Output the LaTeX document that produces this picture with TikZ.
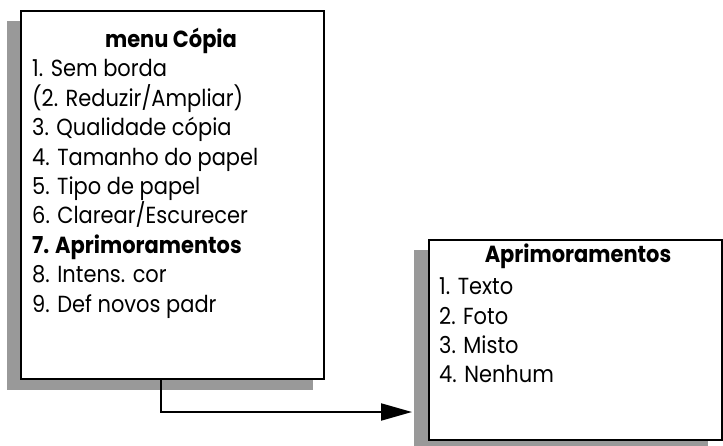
\documentclass[tikz,border=0pt]{standalone}
\usepackage{fontspec}
\setmainfont[FakeStretch=0.9]{Poppins}
\usetikzlibrary{arrows.meta}
\definecolor{shadowgray}{HTML}{999999}
\tikzset{
  menubox/.style={draw=black, line width=2.2pt, fill=white, inner sep=0pt, anchor=north west},
  shade/.style={fill=shadowgray, draw=none},
  itemtext/.style={anchor=base west, inner sep=0pt, font=\fontsize{23.3}{28}\selectfont},
  titletext/.style={anchor=base, inner sep=0pt, font=\bfseries\fontsize{23.3}{28}\selectfont},
  link/.style={line width=2pt, -{Triangle[length=31pt,width=17pt]}}
}
\begin{document}
\begin{tikzpicture}[x=1pt,y=-1pt]
\useasboundingbox (0,0) rectangle (723,446);
% shadows
\fill[shade] (7,21) rectangle (313,390);
\fill[shade] (414,250) rectangle (708,450);
% boxes
\node[menubox, minimum width=303pt, minimum height=368pt] (menu) at (20,10) {};
\node[menubox, minimum width=293pt, minimum height=200pt] (sub) at (428,239) {};
% left box text
\node[titletext] (mt) at (171,48) {menu Cópia};
\foreach \t [count=\i] in {1. Sem borda,(2. Reduzir/Ampliar),3. Qualidade cópia,4. Tamanho do papel,5. Tipo de papel,6. Clarear/Escurecer,{\bfseries 7. Aprimoramentos},8. Intens. cor,9. Def novos padr}
  \node[itemtext] (m\i) at (32,{77+29.4*(\i-1)}) {\t};
% right box text
\node[titletext] (st) at (578,263) {Aprimoramentos};
\foreach \t [count=\i] in {1. Texto,2. Foto,3. Misto,4. Nenhum}
  \node[itemtext] (s\i) at (439,{295+29.3*(\i-1)}) {\t};
% connector
\coordinate (c1) at (161,378);
\coordinate (c2) at (161,412);
\coordinate (c3) at (412,412);
\draw[link] (c1) -- (c2) -- (c3);
\end{tikzpicture}
\end{document}
